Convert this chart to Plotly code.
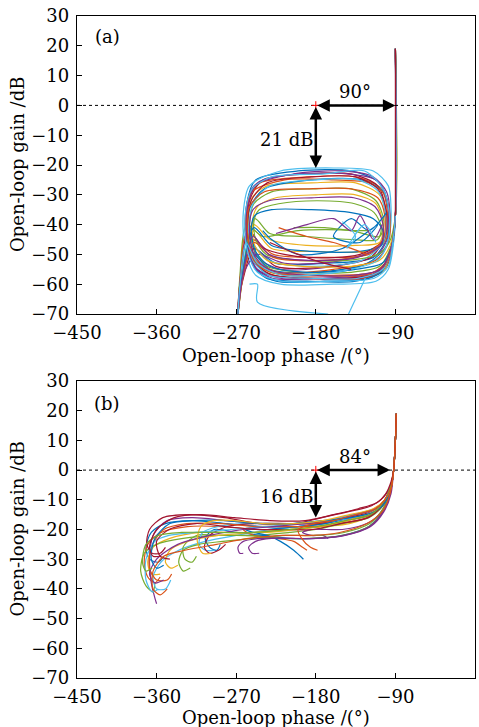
import plotly.graph_objects as go

# ---------------- data: panel (a) ----------------
a_phase = [
    [-90,-90,-93,-100,-120,-170,-225,-248,-257,-258,-248,-200,-140,-108,-98,-99,-115,-170,-225,-250,-260,-266,-268],
    [-90,-90,-94,-102,-125,-180,-230,-250,-258,-256,-243,-190,-135,-106,-99,-101,-120,-175,-228,-252,-263,-267,-268],
    [-90,-90,-95,-105,-130,-185,-232,-250,-256,-252,-235,-185,-135,-108,-100,-103,-125,-180,-230,-250,-262,-268],
    [-90,-90,-93,-100,-118,-165,-220,-246,-257,-259,-250,-205,-150,-115,-100,-96,-97,-110,-160,-220,-246,-258,-265,-268],
    [-90,-90,-96,-108,-140,-195,-235,-250,-255,-250,-230,-180,-140,-112,-103,-108,-140,-200,-240,-258,-266,-268],
    [-90,-90,-92,-98,-112,-160,-220,-248,-260,-262,-255,-220,-160,-115,-98,-95,-96,-105,-140,-210,-245,-258,-264,-268],
    [-90,-90,-94,-104,-128,-180,-228,-249,-257,-255,-240,-190,-140,-110,-101,-102,-118,-165,-225,-250,-262,-267,-268],
    [-90,-90,-95,-106,-135,-190,-236,-252,-258,-254,-238,-185,-128,-104,-97,-100,-122,-180,-232,-254,-264,-268],
    [-90,-90,-93,-99,-115,-160,-215,-244,-256,-259,-252,-215,-160,-120,-102,-96,-98,-112,-160,-222,-248,-260,-266,-268],
    [-90,-90,-96,-110,-145,-200,-238,-252,-257,-253,-235,-185,-135,-110,-100,-103,-130,-190,-238,-256,-265,-268],
    [-90,-90,-94,-103,-126,-178,-229,-250,-258,-257,-246,-200,-145,-112,-100,-98,-106,-150,-215,-247,-261,-267,-268],
    [-90,-90,-95,-104,-132,-188,-233,-251,-256,-251,-232,-182,-132,-109,-101,-104,-128,-185,-234,-255,-264,-268],
    [-90,-90,-96,-108,-140,-195,-235,-249,-252,-246,-225,-180,-135,-112,-104,-108,-135,-190,-232,-250,-262,-268],
    [-90,-90,-97,-110,-145,-200,-236,-248,-250,-244,-222,-178,-136,-114,-106,-110,-138,-192,-232,-249,-262,-268],
    [-90,-90,-95,-105,-135,-190,-232,-248,-253,-249,-230,-185,-140,-115,-104,-106,-130,-185,-230,-250,-263,-268],
    [-90,-90,-94,-103,-127,-182,-230,-250,-257,-255,-238,-190,-140,-110,-102,-104,-124,-176,-228,-250,-262,-268],
    [-90,-90,-95,-107,-137,-192,-234,-250,-255,-251,-233,-185,-137,-113,-104,-107,-133,-188,-233,-251,-263,-268],
    [-90,-90,-93,-98,-114,-160,-218,-246,-258,-260,-252,-230,-170,-125,-104,-97,-98,-110,-158,-218,-246,-259,-266,-268],
    [-100,-120,-140,-160,-130,-110,-150,-200,-230,-240],
    [-222,-190,-160,-140,-122],
    [-232,-200,-170,-140],
    [-205,-170,-140,-120],
    [-225,-190,-160,-140,-130,-115,-105],
    [-150,-135,-145,-125,-112],
    [-255,-246,-246,-166],
    [-143,-124],
    [-90,-90],
]
a_gain = [
    [19,-37,-47,-54,-58,-59,-59,-55,-46,-33,-25,-22,-22,-26,-34,-44,-51,-53,-53,-48,-52,-60,-70],
    [19,-37,-48,-55,-58,-58,-57,-52,-42,-31,-26,-24,-24,-28,-36,-45,-50,-51,-50,-45,-55,-63,-70],
    [19,-37,-49,-56,-57,-57,-56,-50,-40,-31,-27,-26,-26,-30,-38,-46,-49,-49,-48,-42,-57,-70],
    [19,-37,-46,-53,-57,-58,-58,-55,-47,-35,-27,-23,-22,-24,-29,-36,-43,-50,-54,-55,-51,-42,-58,-70],
    [19,-37,-48,-54,-56,-56,-54,-48,-40,-33,-29,-28,-28,-32,-39,-44,-42,-42,-44,-40,-58,-70],
    [19,-37,-46,-55,-59,-60,-60,-57,-48,-36,-27,-22,-21,-22,-27,-34,-42,-50,-55,-57,-53,-45,-60,-70],
    [19,-37,-47,-55,-58,-58,-57,-53,-44,-32,-25,-23,-23,-27,-35,-44,-51,-54,-54,-48,-58,-65,-70],
    [19,-37,-48,-56,-59,-59,-58,-53,-44,-34,-28,-25,-25,-29,-37,-47,-53,-56,-55,-49,-60,-70],
    [19,-37,-45,-52,-56,-57,-57,-54,-47,-37,-29,-25,-25,-26,-30,-38,-46,-52,-55,-56,-52,-44,-60,-70],
    [19,-37,-49,-56,-58,-58,-56,-51,-42,-32,-26,-24,-24,-28,-36,-45,-50,-51,-48,-42,-57,-70],
    [19,-37,-47,-54,-57,-58,-58,-54,-45,-34,-26,-23,-23,-25,-31,-39,-47,-52,-53,-50,-56,-64,-70],
    [19,-37,-48,-55,-58,-58,-57,-52,-43,-33,-27,-25,-25,-29,-37,-46,-52,-54,-52,-46,-58,-70],
    [19,-37,-47,-52,-54,-54,-52,-47,-40,-34,-31,-30,-30,-33,-40,-46,-47,-47,-45,-40,-56,-70],
    [19,-37,-46,-50,-52,-52,-50,-45,-39,-35,-33,-32,-33,-36,-41,-45,-45,-44,-43,-38,-55,-70],
    [19,-37,-48,-53,-55,-56,-54,-49,-42,-37,-35,-35,-36,-38,-42,-47,-49,-49,-47,-41,-57,-70],
    [19,-37,-47,-54,-57,-57,-56,-52,-43,-34,-29,-28,-28,-31,-37,-45,-50,-52,-51,-46,-57,-70],
    [19,-37,-48,-55,-57,-57,-55,-50,-42,-35,-32,-31,-31,-34,-40,-47,-51,-52,-50,-44,-58,-70],
    [19,-37,-46,-54,-58,-59,-59,-56,-48,-37,-28,-24,-23,-22,-28,-36,-45,-52,-56,-57,-53,-46,-61,-70],
    [-36,-42,-38,-44,-46,-40,-48,-50,-45,-42],
    [-41,-44,-46,-48,-50],
    [-46,-50,-53,-55],
    [-41,-41,-42,-42],
    [-43,-40,-38,-42,-37,-45,-40],
    [-39,-44,-48,-40,-46],
    [-60,-60,-66,-70],
    [-70,-58],
    [19,-37],
]
a_color_idx = [0,1,2,3,4,5,6,0,1,6,3,5,2,4,0,1,3,5,0,1,6,4,3,5,5,5,6]

# ---------------- data: panel (b) ----------------
b_phase = [
    [-89,-90,-92,-95,-102,-115,-140,-170,-200,-240,-280,-320,-350,-366,-372,-368,-358,-352],
    [-89,-90,-92,-96,-104,-118,-145,-175,-205,-245,-285,-325,-355,-370,-374,-370,-362,-356],
    [-89,-90,-92,-95,-103,-116,-142,-172,-200,-235,-270,-310,-345,-364,-370,-366,-356],
    [-89,-90,-92,-95,-102,-114,-138,-168,-200,-240,-280,-320,-348,-364,-368,-366,-362,-360],
    [-89,-90,-92,-96,-104,-120,-150,-180,-210,-250,-290,-330,-360,-374,-378,-372,-364,-362],
    [-89,-90,-92,-95,-101,-112,-135,-165,-195,-230,-270,-305,-335,-355,-364,-360,-350,-344],
    [-89,-90,-92,-95,-103,-117,-143,-173,-203,-243,-283,-323,-353,-368,-371,-365,-356,-350],
    [-89,-90,-92,-96,-105,-120,-150,-180,-210,-240,-270,-295,-305,-300,-292,-288],
    [-89,-90,-92,-96,-105,-122,-155,-185,-215,-245,-262,-250,-225,-205,-195,-190],
    [-89,-90,-92,-95,-102,-114,-140,-170,-200,-235,-260,-250,-235,-220,-205,-194],
    [-89,-90,-92,-96,-104,-116,-132,-150,-168,-185,-195,-185,-172,-166],
    [-89,-90,-92,-96,-104,-120,-150,-185,-220,-260,-290,-315,-330,-328,-320,-315],
    [-89,-90,-92,-96,-106,-124,-158,-190,-225,-260,-290,-308,-312,-305,-295],
    [-89,-90,-92,-95,-103,-117,-145,-178,-212,-250,-280,-300,-306,-300,-290,-282],
    [-89,-90,-92,-96,-104,-118,-146,-176,-206,-246,-286,-326,-352,-366,-368,-360,-348,-343],
    [-89,-90,-92,-95,-102,-113,-137,-167,-198,-236,-276,-316,-346,-362,-372,-372,-365,-358],
    [-89,-90,-92,-95,-103,-116,-144,-176,-210,-250,-290,-325,-345,-350,-344,-336],
    [-89,-90,-92,-96,-104,-119,-148,-180,-214,-252,-285,-312,-330,-335,-330,-322],
    [-89,-90,-92,-95,-102,-112,-134,-162,-192,-228,-262,-300,-336,-360,-368,-362,-352],
    [-89,-90,-92,-95,-103,-118,-147,-178,-205,-230,-248,-256,-252,-244],
    [-89,-90,-92,-96,-105,-121,-152,-183,-213,-248,-282,-316,-346,-360,-356,-345],
    [-89,-90,-92,-95,-102,-114,-140,-172,-206,-244,-282,-318,-345,-362,-366,-360,-352],
    [-89,-90,-92,-96,-104,-119,-148,-180,-212,-240,-262,-268,-266,-262],
    [-89,-90,-92,-95,-102,-115,-142,-172,-204,-240,-272,-296,-310,-314,-308,-298],
    [-89,-90,-92,-96,-104,-118,-146,-178,-210,-250,-292,-332,-358,-372,-376,-372,-365],
    [-89,-90,-92,-96,-105,-122,-153,-185,-218,-256,-292,-328,-352,-364,-364,-356,-348],
    [-89,-90,-92,-95,-101,-111,-132,-160,-192,-232,-272,-310,-340,-360,-368,-364,-356],
    [-89,-90,-92,-95,-102,-113,-135,-160,-182,-200,-196,-186,-178],
]
b_gain = [
    [19,10,0,-6,-11,-14,-16,-18,-19,-19,-18,-17,-18,-21,-26,-30,-31,-29],
    [19,10,0,-7,-12,-15,-17,-19,-20,-20,-19,-19,-21,-25,-31,-36,-38,-36],
    [19,10,0,-6,-11,-15,-18,-19,-20,-21,-21,-21,-23,-26,-31,-35,-35],
    [19,10,0,-6,-10,-13,-15,-17,-18,-18,-17,-16,-17,-22,-30,-38,-43,-45],
    [19,10,0,-7,-12,-16,-18,-20,-21,-22,-22,-23,-25,-28,-34,-39,-41,-38],
    [19,10,0,-5,-10,-13,-15,-17,-19,-20,-22,-24,-27,-31,-36,-40,-40,-37],
    [19,10,0,-5,-9,-12,-14,-16,-18,-18,-16,-15,-16,-20,-25,-28,-28,-26],
    [19,10,0,-8,-14,-19,-22,-23,-23,-22,-21,-20,-23,-26,-27,-25],
    [19,10,0,-7,-12,-16,-18,-19,-19,-19,-20,-22,-23,-24,-26,-27],
    [19,10,0,-6,-11,-14,-16,-18,-19,-20,-20,-21,-22,-24,-27,-30],
    [19,10,0,-7,-13,-17,-19,-20,-20,-20,-21,-22,-22,-23],
    [19,10,0,-8,-14,-19,-22,-23,-23,-22,-22,-22,-26,-30,-31,-29],
    [19,10,0,-7,-12,-15,-17,-18,-18,-18,-19,-21,-25,-27,-27],
    [19,10,0,-6,-11,-14,-16,-18,-18,-18,-19,-22,-26,-28,-27,-25],
    [19,10,0,-6,-11,-15,-17,-19,-19,-19,-18,-18,-20,-26,-33,-37,-37,-35],
    [19,10,0,-5,-10,-13,-15,-17,-18,-19,-20,-21,-22,-24,-30,-37,-41,-40],
    [19,10,0,-6,-11,-14,-17,-19,-20,-21,-22,-24,-27,-31,-33,-32],
    [19,10,0,-7,-13,-18,-21,-22,-22,-23,-24,-25,-27,-31,-34,-33],
    [19,10,0,-5,-10,-13,-15,-17,-18,-19,-20,-22,-25,-30,-35,-38,-37],
    [19,10,0,-8,-14,-19,-22,-23,-23,-23,-24,-26,-28,-28],
    [19,10,0,-7,-12,-16,-18,-20,-20,-20,-19,-18,-20,-24,-29,-30],
    [19,10,0,-6,-11,-14,-16,-17,-18,-18,-17,-17,-18,-23,-30,-33,-32],
    [19,10,0,-8,-14,-19,-22,-23,-23,-23,-24,-26,-28,-28],
    [19,10,0,-6,-10,-13,-15,-17,-18,-18,-17,-17,-19,-24,-28,-28],
    [19,10,0,-6,-11,-15,-17,-19,-20,-21,-21,-21,-22,-25,-31,-34,-33],
    [19,10,0,-8,-14,-18,-21,-22,-22,-23,-25,-27,-29,-34,-40,-42,-40],
    [19,10,0,-4,-8,-11,-13,-15,-17,-17,-16,-15,-16,-20,-26,-29,-29],
    [19,10,0,-6,-10,-13,-15,-17,-18,-20,-23,-26,-27],
]
b_color_idx = [0,1,2,3,4,5,6,0,1,0,3,4,5,6,1,5,2,4,3,3,6,0,3,2,4,1,6,1]

x_ticks = [-450, -360, -270, -180, -90, 0]
y_ticks = [-70, -60, -50, -40, -30, -20, -10, 0, 10, 20, 30]

gm_a, pm_a = 21, 90
gm_b, pm_b = 16, 84

colors = ["#0072BD", "#D95319", "#EDB120", "#7E2F8E", "#77AC30", "#4DBEEE", "#A2142F"]

W, H = 479, 727
FONT = "DejaVu Serif"
FS = 18

fig = go.Figure()

def add_curves(px, gy, cidx, xa, ya):
    for xs, ys, c in zip(px, gy, cidx):
        fig.add_trace(go.Scatter(
            x=xs, y=ys, mode="lines", xaxis=xa, yaxis=ya,
            line=dict(color=colors[c], width=1.2, shape="spline", smoothing=0.8),
            showlegend=False, hoverinfo="skip"))

add_curves(a_phase, a_gain, a_color_idx, "x", "y")
add_curves(b_phase, b_gain, b_color_idx, "x2", "y2")

for xa, ya in (("x", "y"), ("x2", "y2")):
    fig.add_trace(go.Scatter(x=[-450, 0], y=[0, 0], mode="lines", xaxis=xa, yaxis=ya,
                             line=dict(color="black", width=1, dash="dot"),
                             showlegend=False, hoverinfo="skip"))
    fig.add_trace(go.Scatter(x=[-180], y=[0], mode="markers", xaxis=xa, yaxis=ya,
                             marker=dict(symbol="cross-thin", size=6, line=dict(color="red", width=1)),
                             showlegend=False, hoverinfo="skip"))

L, R = 77, 475
a_top, a_bot = 16, 314
b_top, b_bot = 381, 678
xd = [L / W, R / W]
yd_a = [1 - a_bot / H, 1 - a_top / H]
yd_b = [1 - b_bot / H, 1 - b_top / H]

axis_common = dict(showline=True, linecolor="black", linewidth=1.3, mirror=True,
                   ticks="inside", ticklen=5, tickcolor="black", tickwidth=1,
                   showgrid=False, zeroline=False, automargin=False,
                   tickfont=dict(family=FONT, size=FS, color="black"))

fig.update_layout(
    width=W, height=H,
    margin=dict(l=0, r=0, t=0, b=0, pad=0, autoexpand=False),
    paper_bgcolor="white", plot_bgcolor="white",
    font=dict(family=FONT, size=FS, color="black"),
    xaxis=dict(domain=xd, range=[-450, 0], tickvals=x_ticks, anchor="y", ticklabelstandoff=2, **axis_common),
    yaxis=dict(domain=yd_a, range=[-70, 30], tickvals=y_ticks, anchor="x", ticklabelstandoff=3, **axis_common),
    xaxis2=dict(domain=xd, range=[-450, 0], tickvals=x_ticks, anchor="y2", ticklabelstandoff=2, **axis_common),
    yaxis2=dict(domain=yd_b, range=[-70, 30], tickvals=y_ticks, anchor="x2", ticklabelstandoff=3, **axis_common),
)

ann = []
tf = dict(family=FONT, size=FS, color="black")
for xr, yr, gm, pm, lab, labY, top, bot, toff in (
        ("x", "y", gm_a, pm_a, "(a)", 23, a_top, a_bot, 41),
        ("x2", "y2", gm_b, pm_b, "(b)", 22.5, b_top, b_bot, 39)):
    xend = -180 + pm
    ann.append(dict(x=xend, y=0, ax=-180, ay=0, xref=xr, yref=yr, axref=xr, ayref=yr,
                    showarrow=True, arrowhead=2, startarrowhead=2, arrowside="end+start",
                    arrowsize=1, startarrowsize=1, arrowwidth=2.5, arrowcolor="black", text=""))
    ann.append(dict(x=-180, y=-gm, ax=-180, ay=0, xref=xr, yref=yr, axref=xr, ayref=yr,
                    showarrow=True, arrowhead=2, startarrowhead=2, arrowside="end+start",
                    arrowsize=1, startarrowsize=1, arrowwidth=2.5, arrowcolor="black", text=""))
    ann.append(dict(x=-136, y=4.6, xref=xr, yref=yr, text=f"{pm}°", showarrow=False, font=tf))
    ann.append(dict(x=-213, y=-gm / 2 - 1, xref=xr, yref=yr, text=f"{gm} dB", showarrow=False, font=tf))
    ann.append(dict(x=-416, y=labY, xref=xr, yref=yr, text=lab, showarrow=False, font=tf))
    ann.append(dict(x=(L + R) / 2 / W, y=1 - (bot + toff) / H, xref="paper", yref="paper",
                    text="Open-loop phase /(°)", showarrow=False, font=tf,
                    xanchor="center", yanchor="middle"))
    ann.append(dict(x=17 / W, y=1 - (top + bot) / 2 / H, xref="paper", yref="paper",
                    text="Open-loop gain /dB", showarrow=False, font=tf, textangle=-90,
                    xanchor="center", yanchor="middle"))
fig.update_layout(annotations=ann)

fig.write_html("out.html")
